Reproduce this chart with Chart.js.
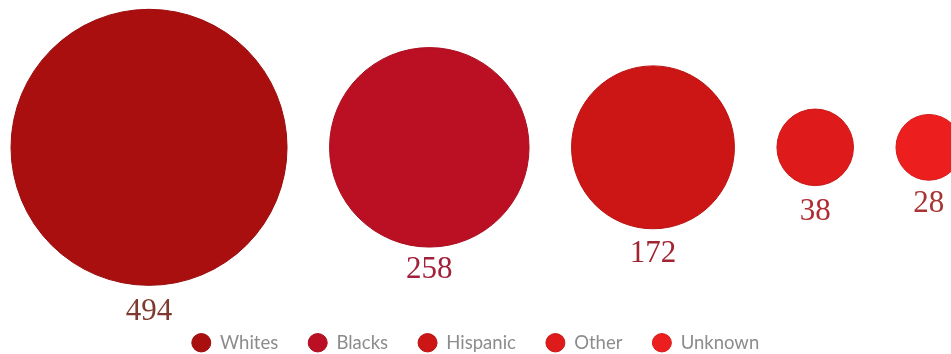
<!DOCTYPE html>
<html>
<head>
<meta charset="utf-8">
<script src="https://cdn.jsdelivr.net/npm/chart.js@4"></script>
<style>
html,body{margin:0;padding:0;background:#fff;}
#wrap{width:951px;height:354px;position:relative;}
</style>
</head>
<body>
<div id="wrap"><canvas id="c"></canvas></div>
<script>
// ---- data ----
const categories = ["Whites", "Blacks", "Hispanic", "Other", "Unknown"];
const values = [494, 258, 172, 38, 28];

// ---- styles ----
const bubbleColors = ["#aa0f0f", "#bb1023", "#cc1515", "#de1a1a", "#ec1e1e"];
const borderColors = ["#9a0c0c", "#a90d1f", "#b91212", "#c81616", "#d61a1a"];
const labelColors = ["#7e3a2e", "#a2213a", "#a22430", "#b02c34", "#a83434"];

// size scale: radius proportional to sqrt(value) (area encodes value)
const radiusScale = v => 6.21 * Math.sqrt(v);
const GAP = 42.5, LEFT = 11;

// pack bubbles horizontally, left to right
const radii = values.map(radiusScale);
const xs = [];
radii.forEach((r, i) => {
  xs.push(i === 0 ? LEFT + r : xs[i - 1] + radii[i - 1] + GAP + r);
});

const datasets = categories.map((c, i) => ({
  label: c,
  data: [{x: xs[i], y: 0, r: radii[i], v: values[i]}],
  backgroundColor: bubbleColors[i],
  borderColor: borderColors[i],
  borderWidth: 1,
  hoverRadius: 0,
  clip: false
}));

const labelOffsets = [27, 23, 25, 26, 24];

const valueLabels = {
  id: 'valueLabels',
  afterDatasetsDraw(chart) {
    const ctx = chart.ctx;
    ctx.save();
    ctx.font = '31px "Liberation Serif", "DejaVu Serif", serif';
    ctx.textAlign = 'center';
    ctx.textBaseline = 'middle';
    chart.data.datasets.forEach((ds, i) => {
      const el = chart.getDatasetMeta(i).data[0];
      const r = el.options.radius;
      ctx.fillStyle = labelColors[i];
      ctx.fillText(String(ds.data[0].v), el.x, el.y + r + labelOffsets[i]);
    });
    ctx.restore();
  }
};

new Chart(document.getElementById('c'), {
  type: 'bubble',
  data: {datasets},
  options: {
    responsive: true,
    maintainAspectRatio: false,
    animation: false,
    layout: {autoPadding: false, padding: {left: 0, right: 0, top: 0, bottom: -8}},
    scales: {
      x: {type: 'linear', min: 0, max: 951, display: false},
      y: {type: 'linear', min: -1.06, max: 1, display: false}
    },
    plugins: {
      tooltip: {enabled: false},
      legend: {
        position: 'bottom',
        labels: {
          usePointStyle: true,
          pointStyle: 'circle',
          boxHeight: 13,
          boxWidth: 18,
          pointStyleWidth: 19,
          padding: 30,
          color: '#8c8c8c',
          font: {family: 'Lato, "Open Sans", sans-serif', size: 18.5}
        }
      }
    }
  },
  plugins: [valueLabels]
});
</script>
</body>
</html>
